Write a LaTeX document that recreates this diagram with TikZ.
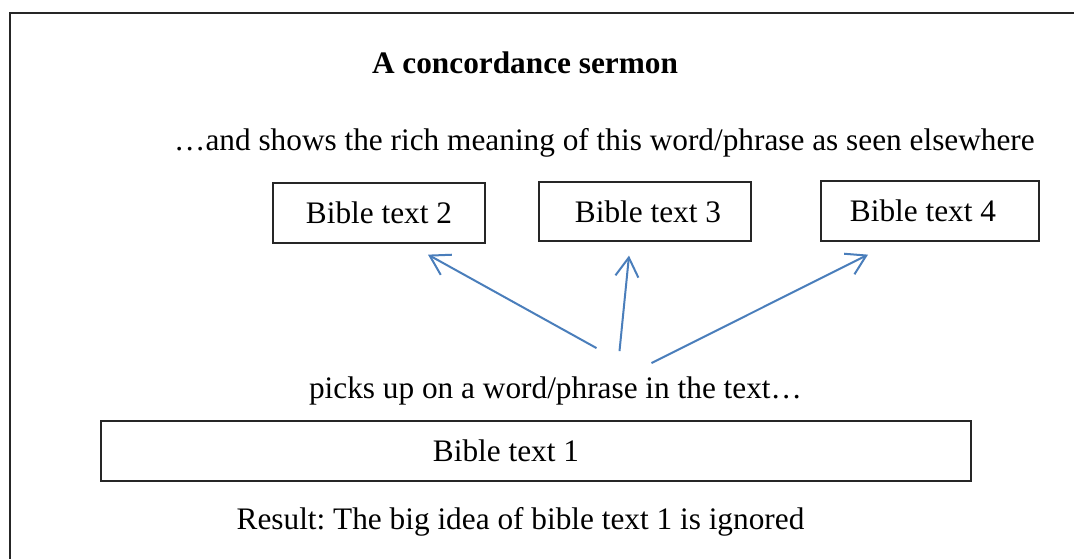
\documentclass[tikz,border=0pt]{standalone}
\usepackage{fontspec}
\setmainfont{Liberation Serif}
\usepackage{xcolor}
\usepackage{tikz}
\usetikzlibrary{calc}
\usetikzlibrary{arrows.meta}
\definecolor{arrowblue}{HTML}{4A7EBB}
\frenchspacing
\tikzset{
	textbox/.style={draw=black!85,line width=1.3pt,inner sep=0pt,minimum height=60pt},
	plain/.style={inner sep=0pt,anchor=base},
	arr/.style={draw=arrowblue,line width=2pt,-{Straight Barb[length=19pt,width=23pt]}}
}
\newcommand{\bodyfont}{\fontsize{31.3}{36}\selectfont}

\begin{document}
\begin{tikzpicture}[x=1pt,y=1pt,font=\bodyfont]
					\useasboundingbox (0,0) rectangle (1074,558);
					\clip (0,0) rectangle (1074,558);
					\draw[black!85,line width=2pt] (10,-20) rectangle (1100,545);
					\node[plain] (title) at (525,484) {\textbf{A concordance sermon}};
					\node[plain] (shows) at (604.5,407) {…and shows the rich meaning of this word/phrase as seen elsewhere};
					\node[textbox,minimum width=212pt] (box2) at (379,345) {Bible text 2};
					\node[textbox,minimum width=212pt,minimum height=59pt] (box3) at (645,346.5) {\hspace*{6pt}Bible text 3};
					\node[textbox,minimum width=218pt] (box4) at (930,347) {\hspace*{-14pt}Bible text 4};
					\node[plain] (picks) at (555.5,160) {picks up on a word/phrase in the text…};
					\node[textbox,minimum width=870pt] (box1) at (536,107) {\hspace*{-60pt}Bible text 1};
					\node[plain] (result) at (520.5,29) {Result: The big idea of bible text 1 is ignored};
					\draw[arr] ($(picks.north)+(41,28)$) -- ($(box2.south)+(49,-11)$);
					\draw[arr] ($(picks.north)+(64,25)$) -- ($(box3.south)+(-16,-14)$);
					\draw[arr] ($(picks.north)+(96,13)$) -- ($(box4.south)+(-62,-13)$);
				\end{tikzpicture}
\end{document}
